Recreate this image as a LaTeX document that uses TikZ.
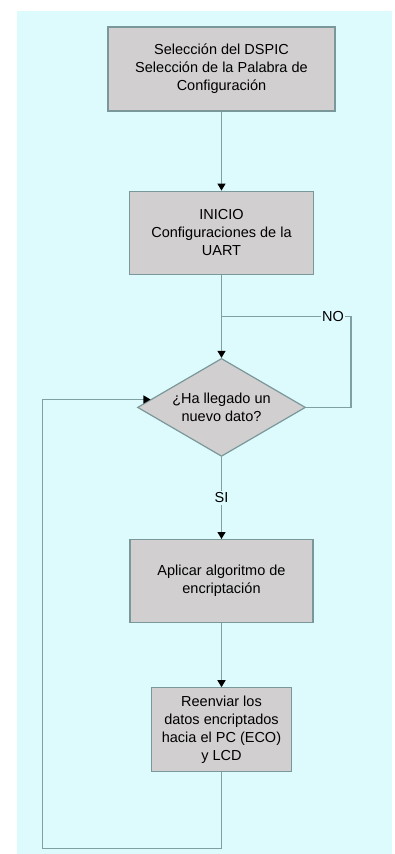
\documentclass[tikz,border=0pt]{standalone}
\usepackage{fontspec}
\setmainfont{Liberation Sans}
\usepackage{tikz}
\usetikzlibrary{positioning,arrows.meta,calc,shapes.geometric}
\definecolor{fondo}{HTML}{DDFBFD}
\definecolor{caja}{HTML}{D1CFCF}
\definecolor{borde}{HTML}{7A979A}
\definecolor{linea}{HTML}{7FA0A2}
\begin{document}
\begin{tikzpicture}[
  x=1pt, y=-1pt,
  node distance=79pt,
  every node/.style={font=\fontsize{14.5}{18}\selectfont},
  proc/.style={draw=borde, line width=1.2pt, fill=caja,
               inner sep=2pt, align=center, minimum height=84pt},
  decis/.style={diamond, draw=borde, line width=1.2pt, fill=caja,
                inner sep=0pt, aspect=1.7, align=center,
                minimum width=168pt, minimum height=98pt},
  lbl/.style={fill=fondo, inner sep=1.5pt},
  line/.style={draw=linea, line width=1.3pt},
  arr/.style={line, -{Triangle[width=8pt,length=7pt,color=black]}}
]
\useasboundingbox (0,0) rectangle (395,854);
\fill[fondo] (17,11) rectangle (392,854);
\node[proc, minimum width=227pt] (sel) at (221.5,69)
  {Selección del DSPIC\\Selección de la Palabra de\\Configuración};
\node[proc, minimum width=184pt, minimum height=83pt, below=of sel] (ini)
  {INICIO\\Configuraciones de la\\UART};
\node[decis, below=83pt of ini] (dato) {¿Ha llegado un\\nuevo dato?};
\node[proc, minimum width=183pt, minimum height=83pt, below=82pt of dato] (enc)
  {Aplicar algoritmo de\\encriptación};
\node[proc, minimum width=140pt, below=64pt of enc] (env)
  {Reenviar los\\datos encriptados\\hacia el PC (ECO)\\y LCD};
\coordinate (jn) at ($(ini.south)!0.5!(dato.north)$);
\coordinate (nocorner) at ($(dato.east)+(45pt,0)$);
\coordinate (entra) at ($(dato.west)!0.16!(dato.north)$);
\coordinate (abajo) at ($(env.south)+(0,-76pt)$);
\coordinate (izq) at ($(abajo)+(-179pt,0)$);
\draw[arr] (sel) -- (ini);
\draw[arr] (ini) -- (dato);
\draw[line] (dato.east) -- (nocorner) |- node[lbl, pos=0.57] {NO} (jn);
\draw[arr] (dato) -- node[lbl] {SI} (enc);
\draw[arr] (enc) -- (env);
\draw[arr] (env) -- (abajo) -- (izq) |- (entra);
\end{tikzpicture}
\end{document}
